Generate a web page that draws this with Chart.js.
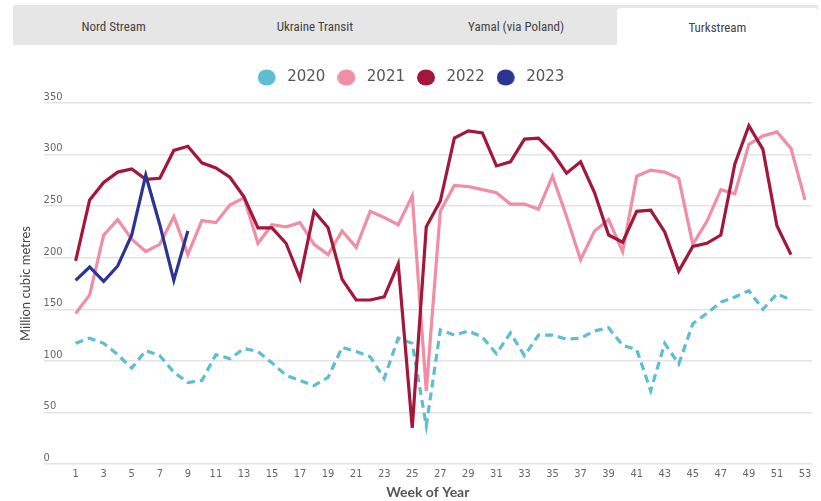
<!DOCTYPE html>
<html>
<head>
<meta charset="utf-8">
<script src="https://cdn.jsdelivr.net/npm/chart.js@4.4.1/dist/chart.umd.min.js"></script>
<style>
  html, body { margin: 0; padding: 0; background: #fff; }
  body { width: 821px; height: 501px; position: relative; overflow: hidden; }
  .tabs {
    position: absolute; left: 13px; top: 5px; width: 805px; height: 40px;
    background: #e6e6e6; display: flex;
  }
  .tab {
    flex: 1; text-align: center; line-height: 40px; padding-top: 2px; box-sizing: border-box;
    font-family: 'Roboto Condensed', 'Liberation Sans Narrow', 'DejaVu Sans Condensed', sans-serif;
    font-size: 13px; color: #444;
  }
  .tab.active { background: #fff; margin-top: 3px; line-height: 35px; border-radius: 4px 4px 0 0; }
  #wrap { position: absolute; left: 0; top: 50px; width: 821px; height: 451px; }
</style>
</head>
<body>
<div class="tabs">
  <div class="tab">Nord Stream</div>
  <div class="tab">Ukraine Transit</div>
  <div class="tab">Yamal (via Poland)</div>
  <div class="tab active">Turkstream</div>
</div>
<div id="wrap"><canvas id="chart"></canvas></div>
<script>
const weeks = [];
for (let w = 1; w <= 53; w++) weeks.push(w);
const tickWeeks = weeks.filter((w) => w % 2 === 1);

const flows2020 = [117, 122, 117, 106, 93, 110, 105, 89, 79, 81, 106, 102, 112, 109, 98, 86, 81, 76, 84, 113,
  109, 104, 83, 122, 117, 37, 130, 125, 129, 123, 107, 127, 105, 125, 125, 121, 122, 129, 132, 115,
  111, 71, 117, 97, 136, 146, 157, 162, 168, 150, 165, 159];
const flows2021 = [146, 164, 222, 237, 218, 206, 213, 240, 203, 236, 234, 251, 258, 214, 232, 230, 234, 213, 203, 226,
  210, 245, 239, 232, 260, 71, 245, 270, 269, 266, 263, 252, 252, 247, 279, 240, 198, 226, 237, 206,
  279, 285, 283, 277, 213, 235, 266, 262, 310, 318, 322, 306, 256];
const flows2022 = [197, 256, 273, 283, 286, 276, 277, 304, 308, 292, 287, 278, 259, 229, 229, 214, 180, 245, 229, 179,
  159, 159, 162, 194, 35, 230, 255, 316, 323, 321, 289, 293, 315, 316, 302, 282, 293, 263, 222, 215,
  245, 246, 225, 187, 211, 214, 222, 291, 328, 305, 231, 203];
const flows2023 = [178, 191, 177, 192, 222, 280, 232, 178, 226];

const seriesNames = ['2023', '2022', '2021', '2020'];
const seriesColors = ['#2c3491', '#a3173a', '#f08ea5', '#5dbdd1'];

function legendDot(color) {
  const c = document.createElement('canvas');
  c.width = 22; c.height = 17;
  const g = c.getContext('2d');
  g.fillStyle = color;
  g.beginPath();
  g.ellipse(9, 8.5, 9, 8, 0, 0, Math.PI * 2);
  g.fill();
  return c;
}

// extra space between legend and plot
const legendGap = {
  id: 'legendGap',
  beforeInit(chart) {
    const fit = chart.legend.fit;
    chart.legend.fit = function () {
      fit.bind(chart.legend)();
      this.height += 8;
    };
  },
};

const seriesData = [flows2023, flows2022, flows2021, flows2020];
const datasets = seriesNames.map((name, i) => ({
  label: name,
  data: seriesData[i],
  borderColor: seriesColors[i],
  backgroundColor: seriesColors[i],
  borderWidth: 3.2,
  borderDash: name === '2020' ? [8, 5] : [],
  pointRadius: 0,
  pointHoverRadius: 0,
  pointStyle: legendDot(seriesColors[i]),
  tension: 0,
  fill: false,
}));

new Chart(document.getElementById('chart'), {
  type: 'line',
  data: { labels: weeks, datasets },
  plugins: [legendGap],
  options: {
    responsive: true,
    maintainAspectRatio: false,
    animation: false,
    layout: { padding: { left: 10, right: 9, top: 8, bottom: 0 } },
    plugins: {
      legend: {
        position: 'top',
        reverse: true,
        labels: {
          usePointStyle: true,
          pointStyleWidth: 22,
          padding: 12,
          color: '#555',
          font: { family: "'DejaVu Sans', sans-serif", size: 15 },
        },
      },
      tooltip: { enabled: false },
    },
    scales: {
      x: {
        type: 'linear',
        min: -1.283,
        max: 53.5,
        afterBuildTicks: (axis) => { axis.ticks = tickWeeks.map((v) => ({ value: v })); },
        grid: { display: false, drawTicks: false },
        border: { display: false },
        ticks: {
          autoSkip: false,
          maxRotation: 0,
          padding: 4,
          color: '#666',
          font: { family: "'DejaVu Sans Condensed', 'Roboto', sans-serif", size: 11 },
        },
        title: {
          display: true,
          text: 'Week of Year',
          color: '#555',
          padding: { top: -1, bottom: 0 },
          font: { family: "'Lato', sans-serif", size: 14, weight: 'bold' },
        },
      },
      y: {
        min: 0,
        max: 350,
        grid: { color: '#e3e3e3', lineWidth: 1.5, drawTicks: false },
        border: { display: false },
        ticks: {
          stepSize: 50,
          mirror: true,
          padding: 0,
          labelOffset: -6,
          color: '#666',
          font: { family: "'DejaVu Sans Condensed', 'Roboto', sans-serif", size: 11 },
        },
        title: {
          display: true,
          text: 'Million cubic metres',
          color: '#444',
          padding: { top: 8, bottom: 10 },
          font: { family: "'Lato', sans-serif", size: 13 },
        },
      },
    },
  },
});
</script>
</body>
</html>
